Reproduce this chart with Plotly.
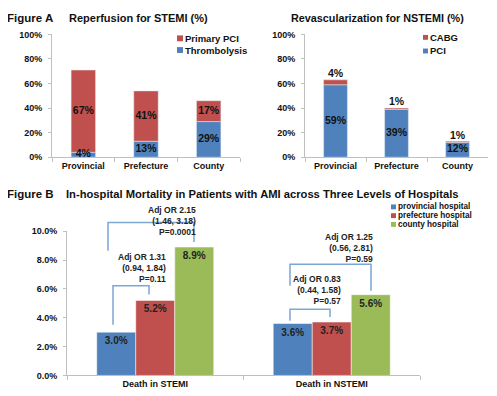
import plotly.graph_objects as go

# ---------------- data ----------------
hosp_levels = ["Provincial", "Prefecture", "County"]
thrombolysis = [4, 13, 29]
primary_pci = [67, 41, 17]
pci_nstemi = [59, 39, 12]
cabg_nstemi = [4, 1, 1]

death_cats = ["Death in STEMI", "Death in NSTEMI"]
provincial_mort = [3.0, 3.6]
prefecture_mort = [5.2, 3.7]
county_mort = [8.9, 5.6]
mort_series = ["provincial hospital", "prefecture hospital", "county hospital"]

or_labels = [
    "Adj OR 2.15<br>(1.46, 3.18)<br>P=0.0001",
    "Adj OR 1.31<br>(0.94, 1.84)<br>P=0.11",
    "Adj OR 1.25<br>(0.56, 2.81)<br>P=0.59",
    "Adj OR 0.83<br>(0.44, 1.58)<br>P=0.57",
]

pct_ticks = [0, 20, 40, 60, 80, 100]
pct_tick_text = ["0%", "20%", "40%", "60%", "80%", "100%"]
mort_ticks = [0, 2, 4, 6, 8, 10]
mort_tick_text = ["0.0%", "2.0%", "4.0%", "6.0%", "8.0%", "10.0%"]

# ---------------- style ----------------
OFF = 8                     # page body margin of the browser
W, H = 497 - OFF, 396 - OFF
BLUE, RED, GREEN = "#4F81BD", "#C0504D", "#9BBB59"
AX = "#BFBFBF"
FONT = "Liberation Sans"
NARROW = "Liberation Sans Narrow, Liberation Sans, Arial"
BRACKET = "#7BA7D6"


def px(x):
    return (x - OFF) / W


def py(y):
    return 1 - (y - OFF) / H


fig = go.Figure()

lab_font = dict(family=NARROW, size=10.5, color="#111", weight="bold")
BARW = 0.39

# --- Figure A left: reperfusion for STEMI
fig.add_trace(go.Bar(x=hosp_levels, y=thrombolysis, name="Thrombolysis",
                     marker_color=BLUE, width=BARW, offset=-BARW / 2,
                     xaxis="x", yaxis="y"))
fig.add_trace(go.Bar(x=hosp_levels, y=primary_pci, base=thrombolysis,
                     name="Primary PCI", marker_color=RED, width=BARW,
                     offset=-BARW / 2, xaxis="x", yaxis="y"))
fig.add_trace(go.Scatter(
    x=hosp_levels + hosp_levels,
    y=[v / 2 for v in thrombolysis] + [t + v / 2 for t, v in zip(thrombolysis, primary_pci)],
    text=[f"{v}%" for v in thrombolysis] + [f"{v}%" for v in primary_pci],
    mode="text", textposition="middle center", textfont=lab_font,
    xaxis="x", yaxis="y", hoverinfo="skip", cliponaxis=False))

# --- Figure A right: revascularization for NSTEMI
fig.add_trace(go.Bar(x=hosp_levels, y=pci_nstemi, name="PCI", marker_color=BLUE,
                     width=BARW, offset=-BARW / 2, xaxis="x2", yaxis="y2"))
fig.add_trace(go.Bar(x=hosp_levels, y=cabg_nstemi, base=pci_nstemi, name="CABG",
                     marker_color=RED, width=BARW, offset=-BARW / 2,
                     xaxis="x2", yaxis="y2"))
fig.add_trace(go.Scatter(
    x=hosp_levels, y=[v / 2 for v in pci_nstemi],
    text=[f"{v}%" for v in pci_nstemi], mode="text",
    textposition="middle center", textfont=lab_font,
    xaxis="x2", yaxis="y2", hoverinfo="skip", cliponaxis=False))
fig.add_trace(go.Scatter(
    x=hosp_levels, y=[p + c for p, c in zip(pci_nstemi, cabg_nstemi)],
    text=[f"{v}%" for v in cabg_nstemi], mode="text",
    textposition="top center", textfont=lab_font,
    xaxis="x2", yaxis="y2", hoverinfo="skip", cliponaxis=False))

# --- Figure B: in-hospital mortality
bw = 0.221
for vals, name, col, off in [
    (provincial_mort, mort_series[0], BLUE, -1.5 * bw),
    (prefecture_mort, mort_series[1], RED, -0.5 * bw),
    (county_mort, mort_series[2], GREEN, 0.5 * bw),
]:
    fig.add_trace(go.Bar(
        x=death_cats, y=vals, name=name, marker_color=col,
        marker_line=dict(color="white", width=0.5),
        width=bw, offset=off, xaxis="x3", yaxis="y3",
        text=[f"{v:.1f}%" for v in vals], textposition="inside", textangle=0,
        insidetextanchor="end", constraintext="none",
        textfont=dict(family=FONT, size=10, color="#222", weight="bold"),
    ))

tickfont = dict(family=FONT, size=9, color="#111", weight="bold")
common_x = dict(type="category", showline=True, linecolor=AX, linewidth=1,
                ticks="outside", tickson="boundaries", ticklen=4,
                tickcolor=AX, showgrid=False, tickfont=tickfont, fixedrange=True)
common_y = dict(showline=True, linecolor=AX, linewidth=1, ticks="outside",
                ticklen=3, tickcolor=AX, showgrid=False, zeroline=False,
                tickfont=tickfont, fixedrange=True, ticklabelstandoff=4)

fig.update_layout(
    width=W, height=H, margin=dict(l=0, r=0, t=0, b=0),
    paper_bgcolor="white", plot_bgcolor="white",
    barmode="overlay", showlegend=False,
    font=dict(family=FONT, color="#111"),
    xaxis=dict(domain=[px(52), px(240)], range=[-0.5, 2.5], anchor="y", **common_x),
    yaxis=dict(domain=[py(156), py(30)], range=[0, 100], tickvals=pct_ticks,
               ticktext=pct_tick_text, anchor="x", **common_y),
    xaxis2=dict(domain=[px(305), px(488)], range=[-0.5, 2.5], anchor="y2", **common_x),
    yaxis2=dict(domain=[py(156), py(30)], range=[0, 100], tickvals=pct_ticks,
                ticktext=pct_tick_text, anchor="x2", **common_y),
    xaxis3=dict(domain=[px(67), px(420)], range=[-0.5, 1.5], anchor="y3", **common_x),
    yaxis3=dict(domain=[py(380), py(232)], range=[0, 10], tickvals=mort_ticks,
                ticktext=mort_tick_text, anchor="x3", **common_y),
)

# ---------------- legends (small squares + labels) ----------------
legend_entries = [  # (label, colour, square-left x, centre y, size, font size)
    ("Primary PCI", RED, 177, 34, 6, 9.5),
    ("Thrombolysis", BLUE, 177, 46, 6, 9.5),
    ("CABG", RED, 423, 33, 5, 9.5),
    ("PCI", BLUE, 423, 47, 5, 9.5),
    (mort_series[0], BLUE, 391, 207, 5, 8.2),
    (mort_series[1], RED, 391, 216, 5, 8.2),
    (mort_series[2], GREEN, 391, 225, 5, 8.2),
]
for label, col, x0, yc, s, fs in legend_entries:
    fig.add_shape(type="rect", xref="paper", yref="paper",
                  x0=px(x0), x1=px(x0 + s), y0=py(yc + s / 2), y1=py(yc - s / 2),
                  fillcolor=col, line=dict(width=0))
    fig.add_annotation(text=label, x=px(x0 + s + 0.5), y=py(yc), xref="paper",
                       yref="paper", xanchor="left", yanchor="middle",
                       showarrow=False, borderpad=0,
                       font=dict(family=FONT, size=fs, color="#111", weight="bold"))

# ---------------- titles ----------------
for text, x, y, fs in [
    ("Figure A", 6, 13, 11.5),
    ("Reperfusion for STEMI (%)", 68, 13, 11),
    ("Revascularization for NSTEMI (%)", 290, 13, 10.8),
    ("Figure B", 6, 194, 11.5),
    ("In-hospital Mortality in Patients with AMI across Three Levels of Hospitals", 65, 194, 11.2),
]:
    fig.add_annotation(text=text, x=px(x), y=py(y), xref="paper", yref="paper",
                       xanchor="left", yanchor="middle", showarrow=False,
                       borderpad=0,
                       font=dict(family=FONT, size=fs, color="#111", weight="bold"))

# ---------------- brackets & OR annotations ----------------
brackets = [  # (x_left, y_left_bottom, y_top, x_right, y_right_bottom) in px
    (108, 252, 223, 194, 243),
    (113, 328, 288, 149, 297),
    (290, 288, 266, 371, 293),
    (290, 324, 312, 330, 320),
]
for xl, ylb, yt, xr, yrb in brackets:
    path = (f"M{px(xl)},{py(ylb)} L{px(xl)},{py(yt)} "
            f"L{px(xr)},{py(yt)} L{px(xr)},{py(yrb)}")
    fig.add_shape(type="path", path=path, xref="paper", yref="paper",
                  line=dict(color=BRACKET, width=1.5))

ann_pos = [(197, 221), (167, 270), (374, 249), (342, 292)]
for text, (x, y) in zip(or_labels, ann_pos):
    fig.add_annotation(text=text, x=px(x), y=py(y), xref="paper", yref="paper",
                       xanchor="right", yanchor="middle", align="right",
                       showarrow=False, borderpad=0,
                       font=dict(family=FONT, size=8.5, color="#222", weight="bold"))

fig.write_html("out.html")
